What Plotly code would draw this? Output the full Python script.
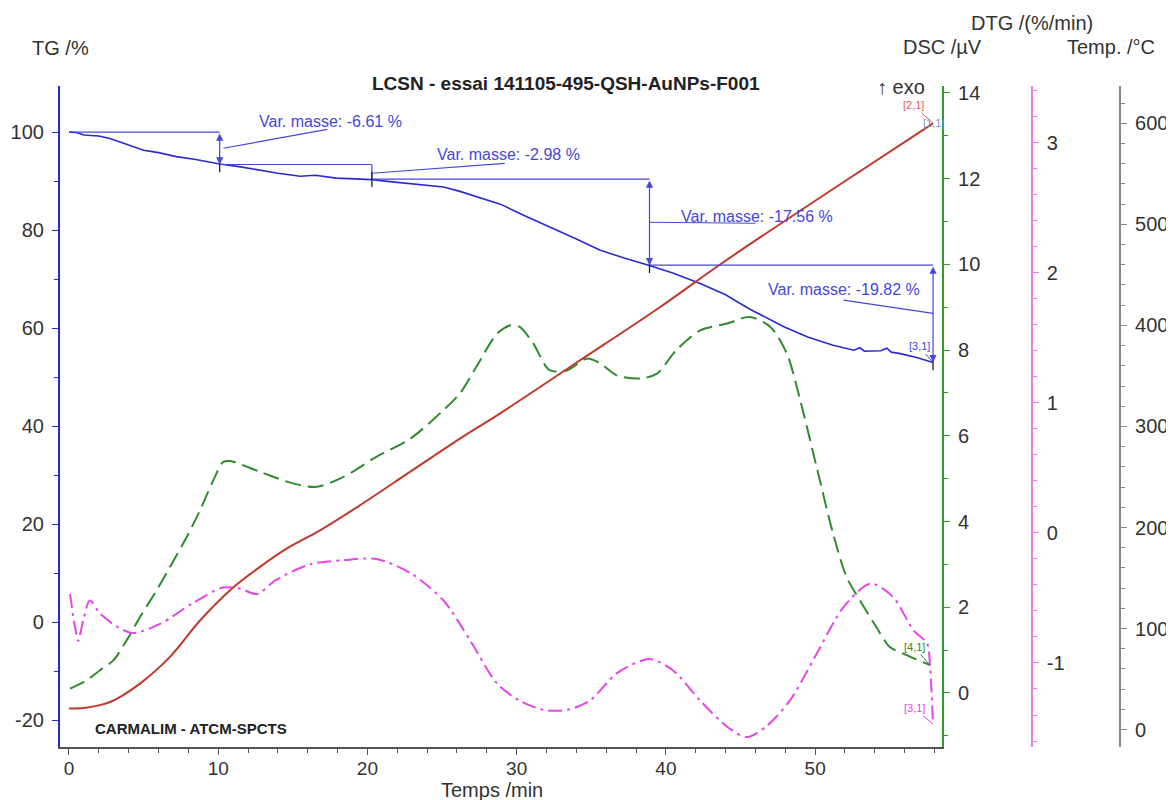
import plotly.graph_objects as go

# ---------------- data ----------------
t_tg = [0, 0.5, 1, 1.5, 2, 2.75, 3.5, 4.2, 5, 6, 7.2, 8.5, 10.1, 11.5, 12.8, 14, 15.5, 16.5,
        17.9, 19, 20.3, 21.5, 22.85, 24, 25.1, 26.2, 27.3, 28.9, 30.5, 32.2, 34, 35.6, 37.2,
        38.9, 40.5, 42.3, 44, 45.6, 46.7, 47.9, 49.5, 51.2, 52.6, 53.0, 53.3, 54.4, 54.8,
        55.1, 55.7, 56.8, 57.9]
tg = [100.0, 99.9, 99.4, 99.3, 99.2, 98.7, 97.9, 97.0, 96.3, 95.8, 95.0, 94.4, 93.5, 92.9,
      92.2, 91.6, 91.0, 91.2, 90.6, 90.4, 90.3, 89.9, 89.5, 89.2, 88.8, 87.9, 86.8, 85.3,
      83.0, 80.7, 78.2, 75.9, 74.3, 72.8, 71.2, 69.1, 66.8, 63.9, 62.1, 60.3, 58.2, 56.5,
      55.5, 56.0, 55.3, 55.4, 55.9, 55.1, 54.8, 54.0, 53.0]

t_dsc = [0.07, 1.19, 2.08, 2.97, 3.87, 4.76, 5.88, 6.77, 7.89, 8.78, 9.67, 10.34, 10.8, 12.8,
         15.0, 16.6, 18.4, 20.6, 22.9, 25.1, 26.2, 27.3, 28.7, 29.6, 30.2, 31.1, 32.2, 33.4,
         34.7, 35.6, 36.7, 38.3, 39.4, 40.7, 42.3, 44.1, 45.6, 47.0, 48.1, 49.0, 50.1, 51.2,
         52.1, 53.0, 54.1, 55.0, 55.9, 57.7]
dsc = [0.10, 0.30, 0.53, 0.76, 1.23, 1.77, 2.40, 2.94, 3.64, 4.26, 4.96, 5.39, 5.41, 5.16,
       4.89, 4.81, 5.04, 5.51, 5.94, 6.60, 6.99, 7.61, 8.39, 8.58, 8.54, 8.16, 7.53, 7.53,
       7.80, 7.69, 7.41, 7.34, 7.45, 8.0, 8.46, 8.62, 8.77, 8.54, 7.92, 6.83, 5.27, 3.72,
       2.71, 2.16, 1.54, 1.07, 0.92, 0.65]

t_dtg = [0.07, 0.4, 0.62, 0.96, 1.4, 2.08, 3.2, 4.3, 6.1, 8.3, 10.3, 11.5, 12.6, 13.9, 16.2,
         18.4, 20.6, 22.9, 25.1, 26.9, 28.7, 30.2, 31.8, 33.4, 34.9, 36.7, 38.9, 40.5, 42.3,
         44.1, 45.4, 46.7, 48.3, 50.1, 51.9, 53.7, 55.2, 56.6, 57.5, 57.7, 57.9]
dtg = [-0.47, -0.72, -0.83, -0.67, -0.52, -0.62, -0.72, -0.77, -0.70, -0.54, -0.42, -0.43,
       -0.47, -0.36, -0.24, -0.21, -0.20, -0.31, -0.52, -0.83, -1.16, -1.29, -1.36, -1.36,
       -1.29, -1.08, -0.97, -1.06, -1.29, -1.49, -1.57, -1.49, -1.29, -0.93, -0.57, -0.39,
       -0.49, -0.75, -0.85, -1.03, -1.47]

t_temp = [0, 1, 2, 2.75, 3.5, 4.76, 6.77, 8.78, 10.8, 12.8, 14.8, 16.8, 19.5, 22.85, 26.2,
          28.9, 34, 39.4, 43.8, 51.2, 57.9]
temp = [21, 21.5, 24, 27.3, 33, 45.5, 72, 108, 138, 161, 181, 197, 222, 255, 288, 313, 363,
        416, 462, 535, 600]

# mass-loss steps
step_t = [0, 10.1, 20.3, 38.9, 57.9]
step_level = [100.0, 93.39, 90.41, 72.85, 53.03]
step_var = [-6.61, -2.98, -17.56, -19.82]

x_ticks = [0, 10, 20, 30, 40, 50]
tg_ticks = [-20, 0, 20, 40, 60, 80, 100]
dsc_ticks = [0, 2, 4, 6, 8, 10, 12, 14]
dtg_ticks = [-1, 0, 1, 2, 3]
temp_ticks = [0, 100, 200, 300, 400, 500, 600]

# ---------------- styles ----------------
FONT = "Liberation Sans, Arial, sans-serif"
C_TG = "#2a2ad4"
C_ANN = "#4646de"
C_DSC = "#2e8b2e"
C_DSC_AX = "#2ca02c"
C_DTG = "#e845e8"
C_DTG_AX = "#f07af0"
C_TEMP = "#c0392b"
C_GRAY = "#888888"
C_TXT = "#333333"

OFF = 8  # page body margin
W, H = 1174 - OFF, 800 - OFF
ML, MR, MT = 60 - OFF, 5, 86 - OFF
MB = H - (746.7 - OFF)
PW = W - ML - MR
PH = H - MT - MB


def px(xs):
    return (xs - OFF - ML) / PW


def py(ys):
    return (H - MB - (ys - OFF)) / PH


fig = go.Figure()
fig.add_trace(go.Scatter(x=t_temp, y=temp, yaxis="y4", mode="lines", name="Temp",
                         line=dict(color=C_TEMP, width=2, shape="spline", smoothing=1.0)))
fig.add_trace(go.Scatter(x=t_dsc, y=dsc, yaxis="y2", mode="lines", name="DSC",
                         line=dict(color=C_DSC, width=2, dash="16px,7px", shape="spline", smoothing=0.8)))
fig.add_trace(go.Scatter(x=t_dtg, y=dtg, yaxis="y3", mode="lines", name="DTG",
                         line=dict(color=C_DTG, width=2, dash="14px,5px,3px,5px", shape="spline", smoothing=0.8)))
fig.add_trace(go.Scatter(x=t_tg, y=tg, yaxis="y", mode="lines", name="TG",
                         line=dict(color=C_TG, width=1.6)))

shapes = []
annotations = []


def seg(x0, y0, x1, y1, color=C_ANN, width=1.2):
    shapes.append(dict(type="line", xref="x", yref="y", x0=x0, y0=y0, x1=x1, y1=y1,
                       line=dict(color=color, width=width)))


def darrow(x, y0, y1):
    annotations.append(dict(x=x, y=y1, ax=x, ay=y0, xref="x", yref="y", axref="x", ayref="y",
                            text="", showarrow=True, arrowside="end+start", arrowhead=2,
                            arrowsize=1.2, arrowwidth=1.2, arrowcolor=C_ANN, standoff=0,
                            startstandoff=0))


# step 1
seg(step_t[0], step_level[0], step_t[1], step_level[0])
darrow(step_t[1], step_level[0], step_level[1])
# step 2
seg(step_t[1], step_level[1], step_t[2], step_level[1])
seg(step_t[2], step_level[1], step_t[2], step_level[2])
# step 3
seg(step_t[2], step_level[2], step_t[3], step_level[2])
darrow(step_t[3], step_level[2], step_level[3])
# step 4
seg(step_t[3], step_level[3], step_t[4], step_level[3])
darrow(step_t[4], step_level[3], step_level[4])

# black markers at step points
for tt, lv in zip(step_t[1:], step_level[1:]):
    seg(tt, lv + 1.5, tt, lv - 1.6, color="#222222", width=1.3)

# leader lines + labels: (leader start, leader end, text pos)
labels = [
    ((10.35, 96.7), (17.3, 100.55), (12.6, 102.2)),
    ((20.3, 91.6), (29.2, 93.6), (24.5, 95.4)),
    ((38.9, 81.6), (46.0, 81.4), (40.9, 82.8)),
    ((57.9, 63.0), (51.9, 65.7), (46.7, 67.9)),
]
for (s, e, tp), v in zip(labels, step_var):
    seg(s[0], s[1], e[0], e[1])
    annotations.append(dict(x=tp[0], y=tp[1], xref="x", yref="y", xanchor="left",
                            yanchor="middle", showarrow=False,
                            text=f"Var. masse: {v:.2f} %",
                            font=dict(family=FONT, size=16, color=C_ANN)))


# end-of-curve labels
def end_label(x, y, yref, text, color, ax, ay, arrow=True):
    annotations.append(dict(x=x, y=y, xref="x", yref=yref, text=text, showarrow=arrow,
                            arrowhead=0, arrowwidth=1, arrowcolor=color, ax=ax, ay=ay,
                            font=dict(family=FONT, size=11, color=color)))


end_label(t_tg[-1], tg[-1], "y", "[3,1]", C_ANN, -14, -16)
end_label(t_dsc[-1], dsc[-1], "y2", "[4,1]", C_DSC, -16, -18)
end_label(t_dtg[-1], dtg[-1], "y3", "[3,1]", C_DTG, -19, -16)
end_label(t_temp[-1], temp[-1], "y4", "[2,1]", "#e06060", -20, -18)
end_label(t_temp[-1], temp[-1], "y4", "[1,1]", "#7090c0", -14, -18, arrow=False)


# titles / axis labels (screen coords -> paper coords)
def ptext(x, y, text, size=20, bold=False, xanchor="center", color=C_TXT):
    annotations.append(dict(x=px(x), y=py(y), xref="paper", yref="paper",
                            text=f"<b>{text}</b>" if bold else text,
                            showarrow=False, xanchor=xanchor, yanchor="middle",
                            font=dict(family=FONT, size=size, color=color)))


ptext(60, 48, "TG /%")
ptext(566, 84, "LCSN - essai 141105-495-QSH-AuNPs-F001", size=19, bold=True, color="#222")
ptext(927, 87, "↑ exo", xanchor="right")
ptext(1032, 23, "DTG /(%/min)")
ptext(942, 47, "DSC /µV")
ptext(1111, 47, "Temp. /°C")
ptext(492, 790, "Temps /min")
ptext(93, 728, "CARMALIM - ATCM-SPCTS", size=15, bold=True, xanchor="left", color="#222")

tickfont = dict(family=FONT, size=20, color=C_TXT)


def labels_of(vals):
    return [str(v) for v in vals]  # plain ASCII hyphen for negatives


def yax(color, rng, ticks, minor, **kw):
    d = dict(range=rng, tickvals=ticks, ticktext=labels_of(ticks), ticks="outside",
             ticklen=6, tickwidth=1.2,
             tickcolor=color, showline=True, linecolor=color, linewidth=2.2,
             showgrid=False, zeroline=False, tickfont=tickfont, ticklabelstandoff=4,
             automargin=False,
             minor=dict(dtick=minor, tick0=0, ticks="outside", ticklen=4, tickcolor=color,
                        showgrid=False))
    d.update(kw)
    return d


fig.update_layout(
    width=W, height=H,
    margin=dict(l=ML, r=MR, t=MT, b=MB, autoexpand=False),
    paper_bgcolor="white", plot_bgcolor="white",
    showlegend=False,
    xaxis=dict(domain=[0, px(942)], range=[-0.6, 58.5], tickvals=x_ticks,
               ticktext=labels_of(x_ticks), ticks="outside",
               ticklen=6, tickcolor="#555", showline=True, linecolor="#555", linewidth=1.5,
               showgrid=False, zeroline=False, tickfont=dict(family=FONT, size=19, color=C_TXT),
               automargin=False, ticklabelstandoff=-3,
               minor=dict(dtick=2, tick0=0, ticks="outside", ticklen=4, tickcolor="#555",
                          showgrid=False)),
    yaxis=yax(C_TG, [-25.45, 109.4], tg_ticks, 10, side="left"),
    yaxis2=yax(C_DSC_AX, [-1.26, 14.16], dsc_ticks, 1, overlaying="y", side="right", anchor="x"),
    yaxis3=yax(C_DTG_AX, [-1.646, 3.436], dtg_ticks, 0.2, overlaying="y", side="right",
               anchor="free", position=px(1031.7)),
    yaxis4=yax(C_GRAY, [-17.2, 636.9], temp_ticks, 20, overlaying="y", side="right",
               anchor="free", position=px(1120)),
    shapes=shapes,
    annotations=annotations,
)

fig.write_html("out.html")
